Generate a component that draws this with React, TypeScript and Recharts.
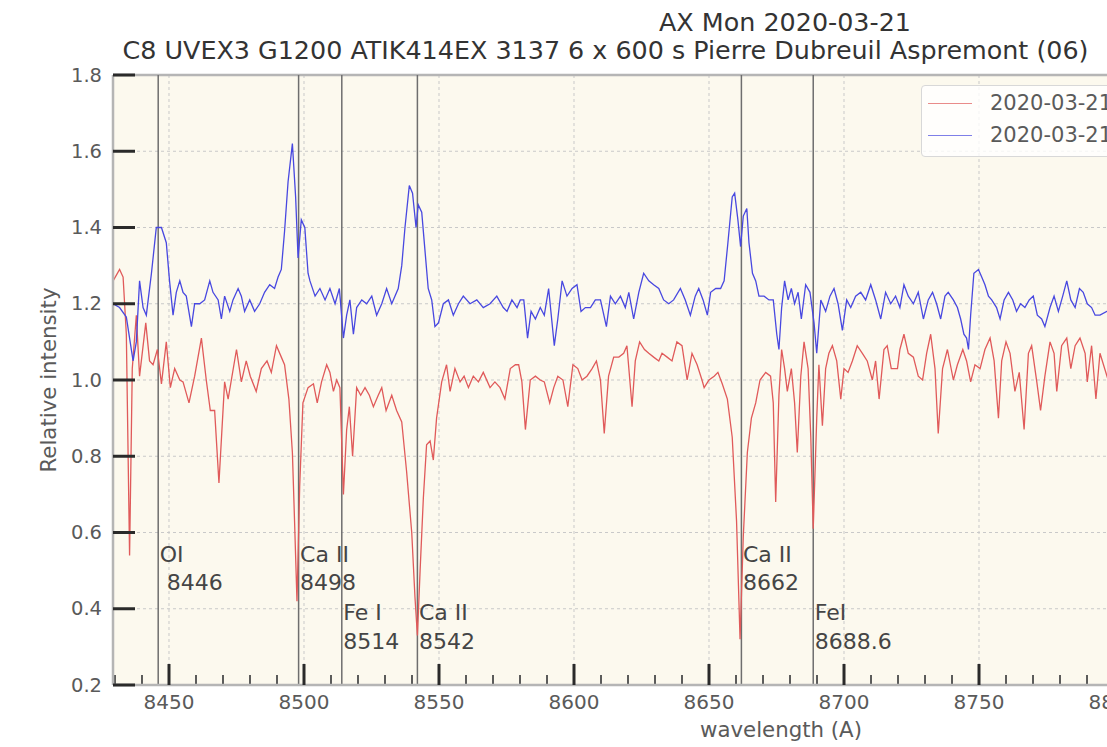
import React from 'react';
import {
  LineChart,
  Line,
  XAxis,
  YAxis,
  CartesianGrid,
  ReferenceLine,
  ReferenceDot,
  Legend,
} from 'recharts';

// ---------- data (wavelength in Å, relative intensity) ----------
const redSpectrum: [number, number][] = [
  [8429.3, 1.26], [8431.7, 1.29], [8433.0, 1.27], [8434.2, 1.12], [8435.4, 0.54], [8436.4, 1.03],
  [8437.9, 1.17], [8439.1, 1.01], [8441.4, 1.15], [8442.8, 1.05], [8444.1, 1.04], [8445.7, 1.08],
  [8447.2, 0.99], [8449.0, 1.10], [8450.5, 0.98], [8452.1, 1.03], [8454.0, 1.0], [8455.2, 0.995],
  [8457.4, 0.94], [8459.5, 1.01], [8462.0, 1.11], [8463.8, 1.0], [8465.3, 0.92], [8466.9, 0.92],
  [8468.5, 0.73], [8470.6, 0.995], [8471.9, 0.95], [8475.0, 1.08], [8476.8, 0.995], [8478.6, 1.05],
  [8480.1, 1.01], [8482.3, 0.97], [8484.2, 1.03], [8486.3, 1.05], [8487.9, 1.02], [8489.8, 1.09],
  [8491.6, 1.06], [8492.8, 1.04], [8494.4, 0.95], [8495.7, 0.81], [8496.5, 0.63], [8497.4, 0.42],
  [8498.4, 0.72], [8499.6, 0.94], [8501.5, 0.98], [8503.5, 0.99], [8504.9, 0.94], [8506.5, 0.995],
  [8508.4, 1.04], [8509.6, 1.02], [8510.9, 0.97], [8512.1, 1.0], [8513.3, 0.98], [8514.6, 0.7],
  [8515.8, 0.87], [8516.8, 0.93], [8518.0, 0.8], [8519.5, 0.98], [8521.0, 0.96], [8522.6, 0.98],
  [8524.2, 0.96], [8525.7, 0.93], [8527.5, 0.96], [8528.8, 0.98], [8530.4, 0.92], [8532.5, 0.96],
  [8534.3, 0.92], [8536.2, 0.89], [8538.0, 0.76], [8539.9, 0.6], [8541.1, 0.43], [8542.0, 0.33],
  [8543.0, 0.5], [8544.2, 0.69], [8545.4, 0.83], [8546.7, 0.84], [8547.9, 0.79], [8549.1, 0.9],
  [8551.0, 0.995], [8552.8, 1.04], [8554.1, 0.97], [8555.9, 1.03], [8557.8, 0.995], [8559.3, 1.01],
  [8560.9, 0.98], [8562.7, 1.01], [8564.6, 0.995], [8566.4, 1.02], [8568.9, 0.98], [8570.7, 0.995],
  [8572.6, 0.98], [8574.4, 0.95], [8576.4, 1.03], [8578.3, 1.04], [8579.5, 1.04], [8580.7, 0.995],
  [8582.0, 0.87], [8583.8, 1.0], [8585.7, 1.01], [8587.5, 1.0], [8589.0, 0.995], [8591.0, 0.94],
  [8592.5, 0.98], [8594.0, 1.01], [8595.9, 1.0], [8597.7, 0.93], [8599.6, 1.04], [8601.4, 1.03],
  [8603.0, 1.0], [8604.8, 1.01], [8606.7, 1.03], [8608.3, 1.05], [8609.8, 1.0], [8611.2, 0.86],
  [8612.8, 1.01], [8614.7, 1.06], [8616.6, 1.06], [8618.4, 1.07], [8619.6, 1.09], [8621.5, 0.93],
  [8622.7, 1.05], [8624.3, 1.1], [8626.1, 1.08], [8627.7, 1.07], [8629.5, 1.06], [8631.4, 1.05],
  [8632.6, 1.07], [8634.5, 1.06], [8636.3, 1.05], [8638.1, 1.1], [8640.0, 1.09], [8641.9, 1.0],
  [8643.7, 1.07], [8645.6, 1.04], [8647.4, 1.0], [8648.2, 0.98], [8650.0, 1.0], [8651.9, 1.01],
  [8653.3, 1.02], [8654.9, 0.99], [8656.8, 0.95], [8658.6, 0.85], [8660.2, 0.63], [8661.5, 0.32],
  [8662.7, 0.59], [8664.2, 0.81], [8665.7, 0.9], [8667.3, 0.94], [8668.9, 1.0], [8671.0, 1.02],
  [8672.8, 1.01], [8673.8, 0.94], [8674.7, 0.68], [8675.9, 0.96], [8676.9, 1.08], [8678.0, 1.03],
  [8679.0, 0.97], [8680.5, 1.03], [8681.7, 0.94], [8682.7, 0.81], [8684.0, 1.01], [8685.2, 1.1],
  [8686.7, 1.03], [8687.7, 0.85], [8688.6, 0.61], [8689.9, 0.9], [8690.7, 1.04], [8692.0, 0.88],
  [8693.2, 1.03], [8694.4, 1.07], [8695.7, 1.09], [8697.3, 1.05], [8698.8, 0.95], [8700.0, 1.03],
  [8701.5, 1.02], [8703.1, 1.05], [8704.9, 1.09], [8706.8, 1.07], [8708.6, 1.05], [8710.5, 1.0],
  [8711.7, 1.05], [8713.0, 0.95], [8714.8, 1.08], [8716.0, 1.09], [8717.5, 1.03], [8719.8, 1.03],
  [8720.7, 1.08], [8722.2, 1.12], [8723.8, 1.07], [8725.7, 1.06], [8727.5, 1.01], [8729.1, 1.0],
  [8730.6, 1.07], [8732.1, 1.12], [8733.7, 1.03], [8734.9, 0.86], [8736.5, 1.03], [8738.3, 1.08],
  [8740.5, 1.0], [8742.0, 1.04], [8744.0, 1.08], [8745.4, 1.05], [8746.9, 0.995], [8748.5, 1.04],
  [8750.4, 1.03], [8752.2, 1.08], [8754.1, 1.11], [8755.6, 1.05], [8757.2, 0.9], [8758.4, 1.05],
  [8760.0, 1.1], [8761.5, 1.07], [8763.3, 0.97], [8764.9, 1.02], [8766.7, 0.87], [8768.3, 1.07],
  [8769.5, 1.09], [8771.4, 0.995], [8772.8, 0.92], [8774.4, 1.01], [8776.3, 1.1], [8777.8, 1.07],
  [8778.8, 0.97], [8780.6, 1.09], [8782.5, 1.11], [8784.0, 1.03], [8785.6, 1.09], [8787.4, 1.11],
  [8789.3, 1.07], [8790.1, 0.995], [8791.7, 1.09], [8793.3, 0.95], [8794.8, 1.07], [8797.4, 1.01],
  [8800.0, 1.06], [8803.0, 1.04],
];

const blueSpectrum: [number, number][] = [
  [8429.3, 1.2], [8431.7, 1.19], [8434.2, 1.165], [8436.7, 1.05], [8437.9, 1.1], [8439.1, 1.26],
  [8440.4, 1.19], [8441.6, 1.17], [8443.5, 1.28], [8445.3, 1.4], [8447.2, 1.4], [8449.0, 1.36],
  [8450.2, 1.26], [8451.5, 1.17], [8452.7, 1.23], [8454.0, 1.26], [8455.2, 1.23], [8456.4, 1.22],
  [8458.3, 1.14], [8459.5, 1.2], [8461.4, 1.2], [8463.2, 1.21], [8465.1, 1.26], [8466.3, 1.23],
  [8468.2, 1.21], [8469.4, 1.16], [8470.6, 1.22], [8472.5, 1.18], [8473.7, 1.21], [8475.6, 1.24],
  [8476.8, 1.22], [8478.0, 1.18], [8479.9, 1.21], [8481.7, 1.18], [8483.6, 1.2], [8485.4, 1.23],
  [8487.3, 1.25], [8489.1, 1.24], [8490.4, 1.27], [8491.6, 1.29], [8492.8, 1.39], [8494.1, 1.52],
  [8495.7, 1.62], [8496.9, 1.48], [8497.8, 1.32], [8499.0, 1.42], [8500.3, 1.4], [8501.5, 1.28],
  [8502.2, 1.26], [8504.1, 1.22], [8505.9, 1.24], [8507.8, 1.21], [8509.6, 1.24], [8511.5, 1.2],
  [8513.1, 1.24], [8514.6, 1.11], [8515.8, 1.17], [8517.0, 1.21], [8518.3, 1.12], [8519.5, 1.19],
  [8521.4, 1.21], [8523.2, 1.2], [8525.1, 1.22], [8526.9, 1.17], [8528.8, 1.2], [8530.6, 1.24],
  [8532.5, 1.2], [8534.9, 1.24], [8536.2, 1.3], [8537.4, 1.4], [8539.0, 1.51], [8540.2, 1.49],
  [8541.5, 1.4], [8542.3, 1.46], [8543.6, 1.44], [8544.8, 1.34], [8546.0, 1.24], [8547.3, 1.21],
  [8548.5, 1.14], [8549.8, 1.15], [8551.6, 1.2], [8553.5, 1.21], [8555.3, 1.17], [8557.2, 1.2],
  [8559.0, 1.22], [8561.5, 1.2], [8564.0, 1.21], [8566.4, 1.19], [8568.9, 1.2], [8571.4, 1.22],
  [8573.8, 1.19], [8575.2, 1.18], [8577.0, 1.21], [8578.9, 1.19], [8580.1, 1.21], [8581.4, 1.21],
  [8582.8, 1.11], [8584.1, 1.18], [8585.7, 1.16], [8587.5, 1.19], [8589.0, 1.17], [8590.6, 1.24],
  [8592.7, 1.09], [8594.0, 1.16], [8595.6, 1.26], [8597.4, 1.22], [8599.3, 1.24], [8601.1, 1.25],
  [8602.6, 1.18], [8604.2, 1.19], [8606.1, 1.19], [8607.9, 1.21], [8609.8, 1.21], [8612.0, 1.14],
  [8613.5, 1.22], [8615.3, 1.2], [8617.2, 1.22], [8619.0, 1.19], [8620.3, 1.23], [8622.1, 1.16],
  [8624.0, 1.23], [8625.8, 1.28], [8627.7, 1.26], [8629.5, 1.25], [8631.4, 1.24], [8633.2, 1.21],
  [8635.1, 1.2], [8636.9, 1.21], [8639.4, 1.24], [8641.2, 1.21], [8643.1, 1.17], [8644.9, 1.22],
  [8646.2, 1.24], [8647.8, 1.21], [8649.4, 1.17], [8650.6, 1.23], [8652.5, 1.24], [8654.3, 1.24],
  [8655.6, 1.26], [8657.0, 1.36], [8658.6, 1.48], [8659.5, 1.49], [8660.7, 1.42], [8661.7, 1.35],
  [8662.7, 1.43], [8664.0, 1.45], [8664.8, 1.36], [8666.1, 1.28], [8667.3, 1.26], [8668.5, 1.22],
  [8670.4, 1.22], [8672.2, 1.21], [8673.8, 1.21], [8675.1, 1.12], [8675.9, 1.08], [8676.9, 1.19],
  [8678.0, 1.26], [8679.3, 1.21], [8680.5, 1.24], [8681.7, 1.2], [8683.0, 1.23], [8684.2, 1.16],
  [8685.8, 1.25], [8687.4, 1.23], [8688.9, 1.15], [8689.9, 1.07], [8691.4, 1.21], [8693.2, 1.18],
  [8694.8, 1.22], [8696.3, 1.24], [8697.8, 1.2], [8699.4, 1.13], [8701.0, 1.21], [8702.5, 1.19],
  [8704.3, 1.22], [8706.2, 1.23], [8708.0, 1.21], [8709.9, 1.25], [8711.7, 1.21], [8713.6, 1.16],
  [8715.4, 1.23], [8717.3, 1.2], [8719.1, 1.22], [8720.7, 1.19], [8722.2, 1.25], [8723.8, 1.22],
  [8725.7, 1.2], [8727.5, 1.23], [8729.4, 1.16], [8731.2, 1.21], [8732.8, 1.23], [8734.3, 1.2],
  [8735.8, 1.16], [8737.4, 1.22], [8738.6, 1.23], [8740.5, 1.21], [8742.0, 1.19], [8743.2, 1.16],
  [8744.4, 1.12], [8745.4, 1.11], [8746.1, 1.08], [8746.9, 1.17], [8748.1, 1.28], [8749.8, 1.29],
  [8751.0, 1.27], [8752.2, 1.25], [8753.5, 1.22], [8754.7, 1.21], [8756.5, 1.19], [8757.8, 1.16],
  [8759.3, 1.21], [8760.9, 1.23], [8762.5, 1.21], [8763.9, 1.18], [8765.4, 1.2], [8767.0, 1.19],
  [8768.6, 1.21], [8770.1, 1.22], [8771.6, 1.17], [8773.2, 1.16], [8774.4, 1.14], [8776.3, 1.19],
  [8777.8, 1.22], [8779.4, 1.18], [8781.0, 1.22], [8782.5, 1.26], [8784.0, 1.21], [8785.6, 1.19],
  [8787.2, 1.24], [8788.6, 1.23], [8790.1, 1.2], [8791.7, 1.19], [8793.0, 1.17], [8794.8, 1.17],
  [8797.4, 1.18], [8800.0, 1.19], [8803.0, 1.18],
];

const seriesNames = ['2020-03-21', '2020-03-21'];
const seriesColors = ['#e05a5a', '#4848e0'];

const xMajorTicks = [8450, 8500, 8550, 8600, 8650, 8700, 8750, 8800];
const xMinorTicks = [
  8430, 8440, 8460, 8470, 8480, 8490, 8510, 8520, 8530, 8540, 8560, 8570, 8580, 8590, 8610, 8620,
  8630, 8640, 8660, 8670, 8680, 8690, 8710, 8720, 8730, 8740, 8760, 8770, 8780, 8790,
];
const yTicks = [0.2, 0.4, 0.6, 0.8, 1.0, 1.2, 1.4, 1.6, 1.8];
const xDomain: [number, number] = [8429.26, 8803.7];
const yDomain: [number, number] = [0.2, 1.8];

const lineWavelengths = [8446, 8498, 8514, 8542, 8662, 8688.6];
const lineNames = ['OI', 'Ca II', 'Fe I', 'Ca II', 'Ca II', 'FeI'];
const lineLabels = [' 8446', '8498', '8514', '8542', '8662', '8688.6'];
const lineLabelLevels = [0.523, 0.523, 0.37, 0.37, 0.523, 0.37];

const titleLine1 = 'AX Mon 2020-03-21';
const titleLine2 = 'C8 UVEX3 G1200 ATIK414EX 3137 6 x 600 s Pierre Dubreuil Aspremont (06)';
const xLabel = 'wavelength (A)';
const yLabel = 'Relative intensity';

// ---------- layout ----------
const CHART_W = 1130;
const CHART_H = 747;
const PLOT_LEFT = 113;
const PLOT_BOTTOM = 685;
const FONT = '"DejaVu Sans", Verdana, sans-serif';

const redPoints = redSpectrum.map(([wl, v]) => ({ wl, v }));
const bluePoints = blueSpectrum.map(([wl, v]) => ({ wl, v }));

function YTick(props: any) {
  const { y, payload } = props;
  return (
    <g>
      <line x1={PLOT_LEFT} x2={PLOT_LEFT + 22} y1={y} y2={y} stroke="#2a2a2a" strokeWidth={3} />
      <text
        x={PLOT_LEFT - 11}
        y={y}
        textAnchor="end"
        dominantBaseline="central"
        fontSize={19.5}
        fill="#5a5a5a"
        fontFamily={FONT}
      >
        {Number(payload.value).toFixed(1)}
      </text>
    </g>
  );
}

function XMajorTick(props: any) {
  const { x, payload } = props;
  return (
    <g>
      <line x1={x} x2={x} y1={PLOT_BOTTOM - 21} y2={PLOT_BOTTOM} stroke="#2a2a2a" strokeWidth={3} />
      <text
        x={x}
        y={PLOT_BOTTOM + 17}
        textAnchor="middle"
        dominantBaseline="central"
        fontSize={20}
        fill="#5a5a5a"
        fontFamily={FONT}
      >
        {payload.value}
      </text>
    </g>
  );
}

// short tick mark drawn at the bottom end of a vertical reference line
function MinorTickShape(props: any) {
  const { x1, y1, y2 } = props;
  const yb = Math.max(Number(y1), Number(y2));
  return <line x1={x1} x2={x1} y1={yb - 10} y2={yb} stroke="#4a4a4a" strokeWidth={1.8} />;
}

function makeLabelShape(name: string, code: string) {
  return (p: any) => (
    <g>
      <text x={p.cx + 1.5} y={p.cy} fontSize={22} fill="#454545" fontFamily={FONT} style={{ whiteSpace: 'pre' }}>
        {name}
      </text>
      <text x={p.cx + 1.5} y={p.cy + 28.5} fontSize={22} fill="#454545" fontFamily={FONT} style={{ whiteSpace: 'pre' }}>
        {code}
      </text>
    </g>
  );
}

function LegendBox(props: any) {
  const items = props.payload || [];
  return (
    <div
      style={{
        background: 'rgba(255,255,255,0.8)',
        border: '1px solid #d8d8d8',
        borderRadius: 4,
        padding: '1px 10px 5px 6px',
        fontFamily: FONT,
        fontSize: 21,
        color: '#5a5a5a',
        whiteSpace: 'nowrap',
      }}
    >
      {items.map((it: any, i: number) => (
        <div key={i} style={{ display: 'flex', alignItems: 'center', height: 32 }}>
          <span
            style={{
              display: 'inline-block',
              width: 44,
              height: 0,
              borderTop: `1.5px solid ${it.color}`,
              opacity: 0.7,
              marginRight: 18,
            }}
          />
          <span>{it.value}</span>
        </div>
      ))}
    </div>
  );
}

export default function App() {
  return (
    <div
      style={{
        position: 'fixed',
        left: 0,
        top: 0,
        width: 1107,
        height: 747,
        overflow: 'hidden',
        background: '#ffffff',
        fontFamily: FONT,
      }}
    >
      <LineChart width={CHART_W} height={CHART_H} margin={{ top: 75, right: 6, bottom: 32, left: 53 }}>
        <CartesianGrid fill="#fcf9ee" stroke="#c9c9c9" strokeDasharray="3 3" />
        <XAxis
          dataKey="wl"
          type="number"
          domain={xDomain}
          allowDataOverflow
          ticks={xMajorTicks}
          interval={0}
          height={30}
          tickLine={false}
          axisLine={{ stroke: '#b5b5b5', strokeWidth: 2.5 }}
          tick={<XMajorTick />}
        />
        <YAxis
          type="number"
          domain={yDomain}
          allowDataOverflow
          ticks={yTicks}
          interval={0}
          width={60}
          tickLine={false}
          axisLine={{ stroke: '#b5b5b5', strokeWidth: 2.5 }}
          tick={<YTick />}
        />
        <ReferenceLine y={1.8} stroke="#b5b5b5" strokeWidth={2.5} />
        {xMinorTicks.map((t) => (
          <ReferenceLine key={'mt' + t} x={t} shape={<MinorTickShape />} />
        ))}
        {lineWavelengths.map((wl, i) => (
          <ReferenceLine key={'rl' + i} x={wl} stroke="#6e6e6e" strokeWidth={1.5} />
        ))}
        <Line
          data={redPoints}
          dataKey="v"
          name={seriesNames[0]}
          type="linear"
          stroke={seriesColors[0]}
          strokeWidth={1.3}
          dot={false}
          activeDot={false}
          isAnimationActive={false}
        />
        <Line
          data={bluePoints}
          dataKey="v"
          name={seriesNames[1]}
          type="linear"
          stroke={seriesColors[1]}
          strokeWidth={1.3}
          dot={false}
          activeDot={false}
          isAnimationActive={false}
        />
        {lineWavelengths.map((wl, i) => (
          <ReferenceDot
            key={'rd' + i}
            x={wl}
            y={lineLabelLevels[i]}
            r={0}
            shape={makeLabelShape(lineNames[i], lineLabels[i])}
          />
        ))}
        <Legend
          layout="vertical"
          align="center"
          verticalAlign="middle"
          wrapperStyle={{ left: 921, top: 85, width: 'auto' }}
          content={<LegendBox />}
        />
      </LineChart>

      <div
        style={{
          position: 'absolute',
          left: 785 - 300,
          top: 10,
          width: 600,
          textAlign: 'center',
          fontSize: 25.4,
          lineHeight: 1,
          color: '#333',
          whiteSpace: 'nowrap',
        }}
      >
        {titleLine1}
      </div>
      <div
        style={{
          position: 'absolute',
          left: 605.5 - 550,
          top: 38,
          width: 1100,
          textAlign: 'center',
          fontSize: 25.4,
          lineHeight: 1,
          color: '#333',
          whiteSpace: 'nowrap',
        }}
      >
        {titleLine2}
      </div>
      <div
        style={{
          position: 'absolute',
          left: 781 - 150,
          top: 719,
          width: 300,
          textAlign: 'center',
          fontSize: 21.3,
          lineHeight: 1,
          color: '#5a5a5a',
          whiteSpace: 'nowrap',
        }}
      >
        {xLabel}
      </div>
      <div
        style={{
          position: 'absolute',
          left: 48.5 - 150,
          top: 380 - 12,
          width: 300,
          height: 24,
          lineHeight: '24px',
          textAlign: 'center',
          fontSize: 21.3,
          color: '#5a5a5a',
          whiteSpace: 'nowrap',
          transform: 'rotate(-90deg)',
        }}
      >
        {yLabel}
      </div>
    </div>
  );
}
